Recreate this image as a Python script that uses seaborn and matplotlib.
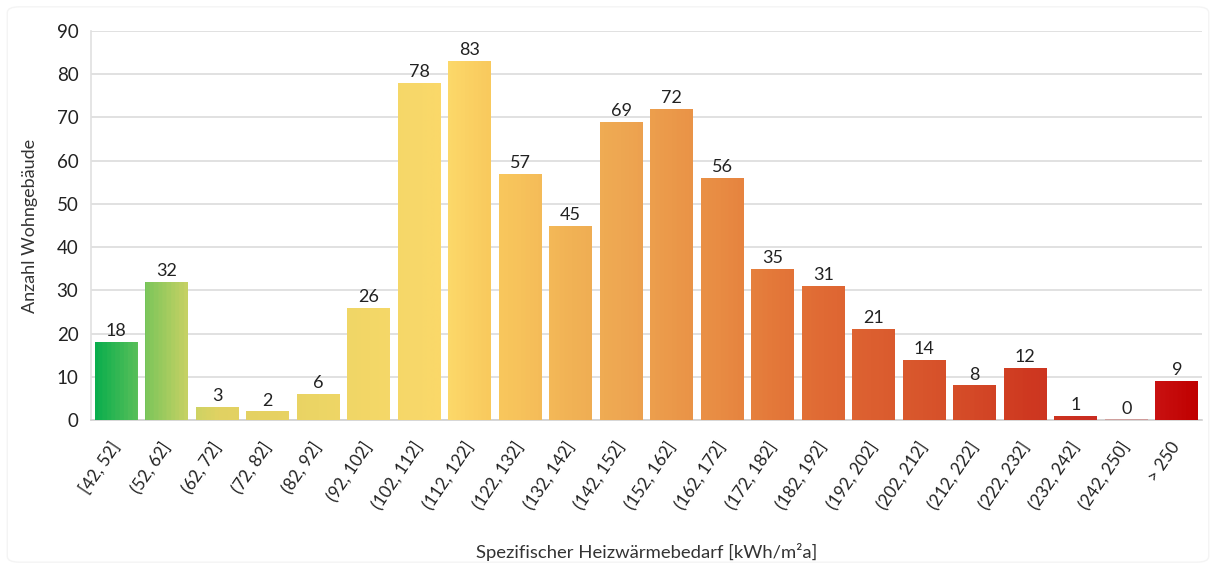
import numpy as np
import pandas as pd
import matplotlib
matplotlib.use("Agg")
import matplotlib.pyplot as plt
from matplotlib.colors import LinearSegmentedColormap
from matplotlib.patches import FancyBboxPatch
import seaborn as sns

categories = ["[42, 52]", "(52, 62]", "(62, 72]", "(72, 82]", "(82, 92]", "(92, 102]",
              "(102, 112]", "(112, 122]", "(122, 132]", "(132, 142]", "(142, 152]",
              "(152, 162]", "(162, 172]", "(172, 182]", "(182, 192]", "(192, 202]",
              "(202, 212]", "(212, 222]", "(222, 232]", "(232, 242]", "(242, 250]", "> 250"]
counts = [18, 32, 3, 2, 6, 26, 78, 83, 57, 45, 69, 72, 56, 35, 31, 21, 14, 8, 12, 1, 0, 9]

y_label = "Anzahl Wohngebäude"
x_label = "Spezifischer Heizwärmebedarf [kWh/m²a]"

# colour stops (position in category units, colour)
grad_stops = [(-0.45, "#0aae4d"), (0.42, "#5cc05a"), (0.58, "#7fc65b"), (1.42, "#cad264"),
              (2.0, "#e1d262"), (3.0, "#e6d162"), (4.0, "#ecd565"), (5.0, "#f3d767"),
              (6.0, "#f8d86a"), (6.6, "#fcd869"), (7.42, "#f9c95d"), (8.0, "#f7c25b"),
              (9.0, "#f1b255"), (10.0, "#eea752"), (11.0, "#eb994a"), (12.0, "#e88b43"),
              (13.0, "#e4793a"), (14.0, "#e06a34"), (15.0, "#dc5f30"), (16.0, "#d8552c"),
              (17.0, "#d44927"), (18.0, "#cf3a21"), (19.0, "#cb2f1f"), (20.0, "#c72a24"),
              (20.6, "#c91212"), (21.45, "#c00000")]

plt.rcParams["font.family"] = ["Lato", "DejaVu Sans"]

fig = plt.figure(figsize=(12.16, 5.69), dpi=100)
fig.patches.append(FancyBboxPatch((0.006, 0.012), 0.988, 0.976,
                                  boxstyle="round,pad=0,rounding_size=0.01",
                                  transform=fig.transFigure, facecolor="white",
                                  edgecolor="#f4f4f4", linewidth=1.0, zorder=-10))
ax = fig.add_axes([0.0748, 0.2618, 0.9885 - 0.0748, 0.9455 - 0.2618])
ax.set_facecolor("none")

df = pd.DataFrame({"cat": categories, "n": counts})
sns.barplot(data=df, x="cat", y="n", color="#cccccc", width=0.85, ax=ax, zorder=2)

lo, hi = grad_stops[0][0], grad_stops[-1][0]
cmap = LinearSegmentedColormap.from_list(
    "heat", [((p - lo) / (hi - lo), c) for p, c in grad_stops])

ax.set_ylim(0, 90)
ax.set_xlim(-0.5, len(categories) - 0.5)

for patch in ax.patches:
    x0, y0 = patch.get_x(), patch.get_y()
    w, h = patch.get_width(), patch.get_height()
    xs = np.linspace(x0, x0 + w, 64)
    vals = ((xs - lo) / (hi - lo)).reshape(1, -1)
    hh = max(h, 0.25)
    im = ax.imshow(vals, cmap=cmap, vmin=0, vmax=1, aspect="auto",
                   extent=(x0, x0 + w, y0, y0 + hh), zorder=3, interpolation="bilinear")
    if h <= 0:
        patch.set_height(0.25)
        im.set_alpha(0.3)
    im.set_clip_path(patch)
    patch.set_facecolor("none")
    patch.set_edgecolor("none")

ax.set_xlim(-0.5, len(categories) - 0.5)
ax.set_ylim(0, 90)
ax.set_aspect("auto")

for i, v in enumerate(counts):
    ax.annotate(str(v), (i, v), xytext=(0, 2), textcoords="offset points",
                ha="center", va="bottom", fontsize=13, color="#222222", zorder=5)

ax.set_yticks(np.arange(0, 91, 10))
ax.yaxis.grid(True, color="#dcdcdc", linewidth=1.2, zorder=0)
ax.xaxis.grid(False)
ax.set_axisbelow(True)
for s in ["top", "right"]:
    ax.spines[s].set_visible(False)
ax.spines["left"].set_color("#e0e0e0")
ax.spines["left"].set_linewidth(1.2)
ax.spines["bottom"].set_color("#d0d0d0")
ax.spines["bottom"].set_linewidth(1.2)
ax.tick_params(axis="both", length=0)
ax.tick_params(axis="y", labelsize=13.5, colors="#222222", pad=9)
ax.set_xticks(range(len(categories)))
ax.set_xticklabels(categories, rotation=56, ha="right", va="center",
                   rotation_mode="anchor", fontsize=12.3, color="#222222")
ax.tick_params(axis="x", pad=17)

ax.set_ylabel(y_label, fontsize=13, color="#333333")
ax.yaxis.label.set_va("center")
ax.yaxis.set_label_coords(-0.0549, 0.5)
ax.set_xlabel(x_label, fontsize=13.3, color="#333333")
ax.xaxis.label.set_va("center")
ax.xaxis.set_label_coords(0.5, -0.339)

fig.savefig("out.png", dpi=100, facecolor="white")
